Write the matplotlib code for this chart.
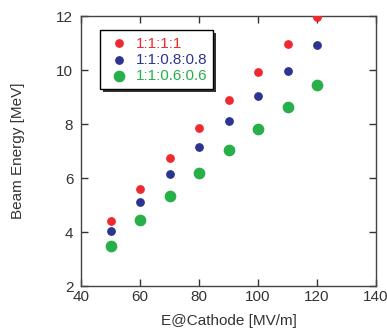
import matplotlib
matplotlib.use('Agg')
import matplotlib.pyplot as plt

# Data
e_cathode = [50, 60, 70, 80, 90, 100, 110, 120]
energy_1111 = [4.40, 5.60, 6.75, 7.85, 8.90, 9.92, 10.95, 11.97]
energy_0808 = [4.02, 5.12, 6.15, 7.15, 8.10, 9.05, 9.98, 10.92]
energy_0606 = [3.47, 4.43, 5.32, 6.18, 7.02, 7.83, 8.63, 9.43]
labels = ['1:1:1:1', '1:1:0.8:0.8', '1:1:0.6:0.6']

plt.rcParams['font.family'] = ['Liberation Sans', 'DejaVu Sans']

fig = plt.figure(figsize=(3.87, 3.36), dpi=100)
ax = fig.add_axes([81 / 387, 1 - 286 / 336, 295 / 387, 270 / 336])

ax.scatter(e_cathode, energy_1111, s=28, color='#ee2a2f', label=labels[0], zorder=3)
ax.scatter(e_cathode, energy_0808, s=28, color='#2b3591', label=labels[1], zorder=3)
ax.scatter(e_cathode, energy_0606, s=55, color='#27b04a', label=labels[2], zorder=3)

ax.set_xlim(40, 140)
ax.set_ylim(2, 12)
ax.set_xticks([40, 60, 80, 100, 120, 140])
ax.set_yticks([2, 4, 6, 8, 10, 12])
ax.tick_params(direction='in', length=5, width=1, top=True, right=True,
               labelsize=11, colors='#333333')
ax.tick_params(axis='x', pad=3)
ax.tick_params(axis='y', pad=5.5)
for sp in ax.spines.values():
    sp.set_color('#444444')
    sp.set_linewidth(1)

ax.set_xlabel('E@Cathode [MV/m]', fontsize=11, color='#333333', va='center')
ax.set_ylabel('Beam Energy [MeV]', fontsize=11, color='#333333', va='center')
ax.xaxis.set_label_coords(0.5, -35 / 270)
ax.yaxis.set_label_coords(-63 / 295, 0.5)

leg = ax.legend(loc='upper left', bbox_to_anchor=(0.04, 0.975), fancybox=False,
                shadow={'facecolor': '#333333', 'edgecolor': 'none', 'alpha': 1},
                edgecolor='black', framealpha=1, fontsize=11,
                labelcolor='markerfacecolor', handletextpad=0.3,
                borderpad=0.4, labelspacing=0.15, handlelength=1.6)
leg.get_frame().set_linewidth(1)

fig.savefig('out.png', dpi=100)
